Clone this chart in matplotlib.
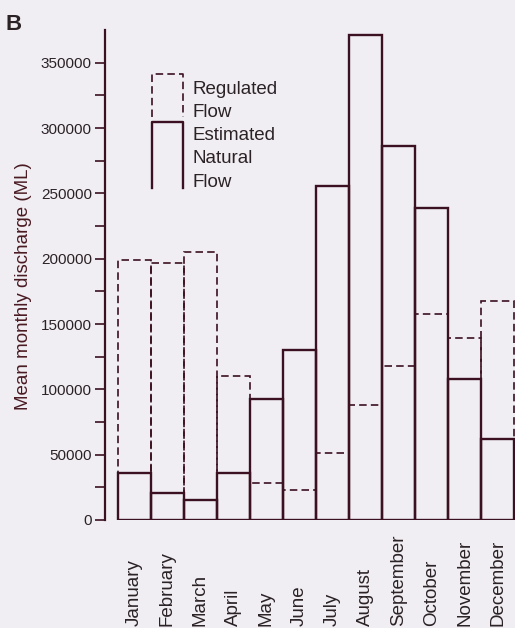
import numpy as np
import matplotlib.pyplot as plt

plt.rcParams['font.family'] = ['Liberation Sans', 'DejaVu Sans']

# data
months = ['January', 'February', 'March', 'April', 'May', 'June',
          'July', 'August', 'September', 'October', 'November', 'December']
regulated = [199000, 197000, 205000, 110000, 28500, 23000,
             51000, 88000, 118000, 158000, 139000, 168000]
natural = [36000, 20500, 15500, 36000, 93000, 130000,
           256000, 371500, 286000, 239000, 108000, 62000]

ink = '#3b1020'
txt = '#2b2226'
bg = '#f0eef2'

fig = plt.figure(figsize=(5.15, 6.28), dpi=100, facecolor=bg)
ax = fig.add_axes([0.204, 0.172, 0.796, 0.780], facecolor=bg)

x = np.arange(len(months))
ax.bar(x, regulated, width=1.0, fill=False, edgecolor=ink, linewidth=1.2,
       linestyle=(0, (4.5, 2.5)), zorder=2)
ax.bar(x, natural, width=1.0, fill=False, edgecolor=ink, linewidth=1.7,
       zorder=3)

ax.set_xlim(-0.89, 11.53)
ax.set_ylim(0, 375000)
ax.set_yticks(np.arange(0, 350001, 50000))
ax.set_yticks(np.arange(25000, 375000, 50000), minor=True)
ax.tick_params(axis='y', which='both', direction='out', length=7, width=1.2,
               color=ink, labelcolor=txt, labelsize=11, pad=2.5)
ax.set_xticks(x)
ax.set_xticklabels(months, rotation=90, va='bottom', fontsize=13.5, color=txt)
ax.tick_params(axis='x', length=0, pad=76)

for s in ['top', 'right', 'bottom']:
    ax.spines[s].set_visible(False)
ax.spines['left'].set_color(ink)
ax.spines['left'].set_linewidth(1.6)

ax.set_ylabel('Mean monthly discharge (ML)', fontsize=13.5, color='#4a1a22')
ax.yaxis.set_label_coords(-0.178, 0.478)

# legend drawn by hand
tr = ax.transAxes
ax.plot([0.115, 0.115, 0.190, 0.190], [0.822, 0.910, 0.910, 0.822],
        transform=tr, color=ink, lw=1.2, ls=(0, (4.5, 2.5)), clip_on=False)
ax.plot([0.115, 0.115, 0.190, 0.190], [0.678, 0.812, 0.812, 0.678],
        transform=tr, color=ink, lw=1.7, clip_on=False)
ax.text(0.214, 0.897, 'Regulated\nFlow', transform=tr, va='top', ha='left',
        fontsize=13.5, color=txt, linespacing=1.5)
ax.text(0.214, 0.803, 'Estimated\nNatural\nFlow', transform=tr, va='top',
        ha='left', fontsize=13.5, color=txt, linespacing=1.5)

fig.text(0.01, 0.953, 'B', fontsize=16, fontweight='bold', color=txt)

plt.savefig('out.png', dpi=100, facecolor=bg)
